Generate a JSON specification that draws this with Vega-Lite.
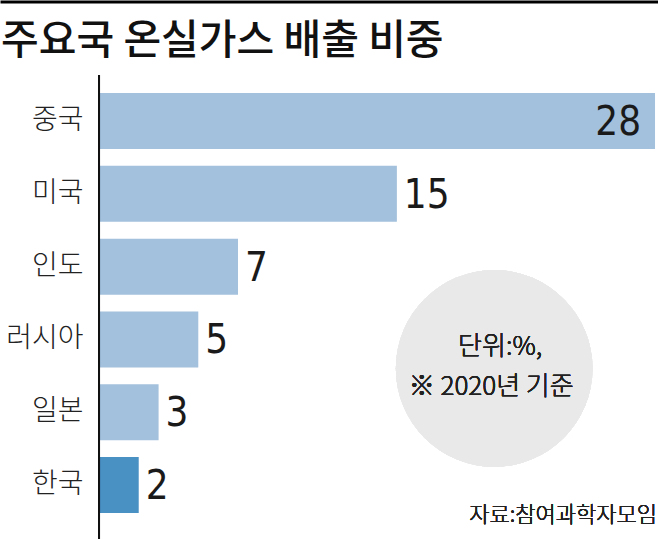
{
  "$schema": "https://vega.github.io/schema/vega-lite/v6.json",
  "width": 658,
  "height": 464,
  "autosize": "none",
  "padding": {"left": 0, "top": 75, "right": 0, "bottom": 0},
  "background": "white",
  "title": {
    "text": "주요국 온실가스 배출 비중",
    "anchor": "start",
    "frame": "group",
    "font": "Noto Sans CJK KR",
    "fontSize": 41,
    "fontWeight": 500,
    "color": "#111",
    "baseline": "bottom",
    "offset": -102,
    "dx": 1
  },
  "data": {
    "values": [
      {"country": "중국", "value": 28},
      {"country": "미국", "value": 15},
      {"country": "인도", "value": 7},
      {"country": "러시아", "value": 5},
      {"country": "일본", "value": 3},
      {"country": "한국", "value": 2}
    ]
  },
  "layer": [
    {
      "mark": {"type": "point", "filled": true, "size": 38700, "color": "#e9e9e9", "opacity": 1, "yOffset": 29},
      "encoding": {
        "x": {"datum": 19.9, "type": "quantitative", "scale": {"domain": [-4.986, 28.15]}, "axis": {"orient": "top", "title": null}},
        "y": {"datum": "러시아", "type": "nominal", "scale": {"domain": ["중국", "미국", "인도", "러시아", "일본", "한국"]}, "axis": {"offset": -83, "title": null}}
      }
    },
    {
      "mark": {"type": "bar"},
      "encoding": {
        "x": {"field": "value", "type": "quantitative", "scale": {"domain": [-4.986, 28.15]}, "axis": {"orient": "top", "title": null}},
        "y": {"field": "country", "type": "nominal", "sort": null, "scale": {"domain": ["중국", "미국", "인도", "러시아", "일본", "한국"], "paddingInner": 0.231, "paddingOuter": 0.302, "align": 0.41}, "axis": {"offset": -83, "title": null}},
        "color": {"condition": {"test": "datum.country === '한국'", "value": "#4a91c3"}, "value": "#a3c0dc"}
      }
    },
    {
      "mark": {"type": "rule", "color": "#111", "strokeWidth": 2},
      "encoding": {
        "x": {"datum": 0, "type": "quantitative", "scale": {"domain": [-4.986, 28.15]}, "axis": {"orient": "top", "title": null}}
      }
    },
    {
      "transform": [{"filter": "datum.value < 20"}],
      "mark": {"type": "text", "align": "left", "baseline": "middle", "dx": 7, "dy": 2, "fontSize": 40, "font": "'Liberation Sans Narrow', 'DejaVu Sans Condensed', 'Liberation Sans', sans-serif", "color": "#1a1a1a"},
      "encoding": {
        "x": {"field": "value", "type": "quantitative", "scale": {"domain": [-4.986, 28.15]}, "axis": {"orient": "top", "title": null}},
        "y": {"field": "country", "type": "nominal", "sort": null, "axis": {"offset": -83, "title": null}},
        "text": {"field": "value", "type": "quantitative"}
      }
    },
    {
      "transform": [{"filter": "datum.value >= 20"}],
      "mark": {"type": "text", "align": "right", "baseline": "middle", "dx": -14, "dy": 2, "fontSize": 40, "font": "'Liberation Sans Narrow', 'DejaVu Sans Condensed', 'Liberation Sans', sans-serif", "color": "#1a1a1a"},
      "encoding": {
        "x": {"field": "value", "type": "quantitative", "scale": {"domain": [-4.986, 28.15]}, "axis": {"orient": "top", "title": null}},
        "y": {"field": "country", "type": "nominal", "sort": null, "axis": {"offset": -83, "title": null}},
        "text": {"field": "value", "type": "quantitative"}
      }
    },
    {
      "mark": {"type": "text", "align": "center", "baseline": "middle", "yOffset": 8, "fontSize": 26, "fontWeight": 300, "font": "Noto Sans CJK KR", "color": "#222"},
      "encoding": {
        "x": {"datum": 20.2, "type": "quantitative", "scale": {"domain": [-4.986, 28.15]}, "axis": {"orient": "top", "title": null}},
        "y": {"datum": "러시아", "type": "nominal", "axis": {"offset": -83, "title": null}},
        "text": {"value": "단위:%,"}
      }
    },
    {
      "mark": {"type": "text", "align": "center", "baseline": "middle", "yOffset": 48, "fontSize": 26, "fontWeight": 300, "font": "Noto Sans CJK KR", "color": "#222"},
      "encoding": {
        "x": {"datum": 19.75, "type": "quantitative", "scale": {"domain": [-4.986, 28.15]}, "axis": {"orient": "top", "title": null}},
        "y": {"datum": "러시아", "type": "nominal", "axis": {"offset": -83, "title": null}},
        "text": {"value": "※ 2020년 기준"}
      }
    },
    {
      "mark": {"type": "text", "align": "right", "baseline": "middle", "yOffset": 30, "fontSize": 22, "fontWeight": 300, "font": "Noto Sans CJK KR", "color": "#222"},
      "encoding": {
        "x": {"datum": 28.1, "type": "quantitative", "scale": {"domain": [-4.986, 28.15]}, "axis": {"orient": "top", "title": null}},
        "y": {"datum": "한국", "type": "nominal", "axis": {"offset": -83, "title": null}},
        "text": {"value": "자료:참여과학자모임"}
      }
    }
  ],
  "config": {
    "view": {"stroke": null},
    "axisX": {"labels": false, "ticks": false, "grid": false, "domain": true, "domainColor": "#000", "domainWidth": 3, "offset": 73.5},
    "axisY": {"domain": false, "ticks": false, "grid": false, "labelPadding": 0, "labelFontSize": 28, "labelFont": "Noto Sans CJK KR", "labelColor": "#222", "labelFontWeight": 300}
  }
}
